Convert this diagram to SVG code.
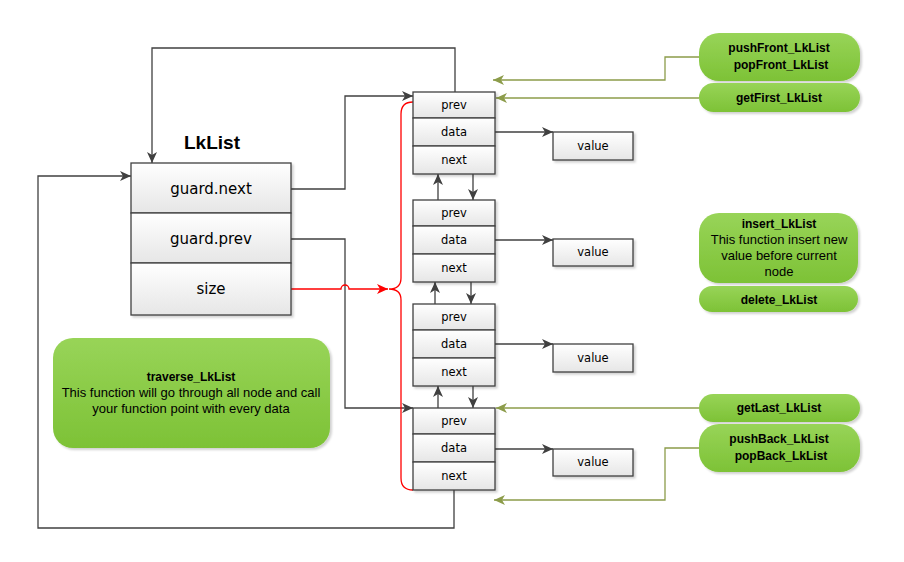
<svg xmlns="http://www.w3.org/2000/svg" width="904" height="562" viewBox="0 0 904 562">
<style>
.box{fill:url(#gBox);stroke:#404040;stroke-width:1.3}
.pill{fill:url(#gGreen);stroke:none}
.t{font-family:"DejaVu Sans",Verdana,sans-serif;fill:#000;text-anchor:middle}
.ts{font-size:11.5px}
.tm{font-size:15px}
.g{font-family:"Liberation Sans",Arial,sans-serif;font-size:13px;fill:#000;text-anchor:middle}
.gb{font-weight:bold;font-size:12px}
.c{fill:none;stroke:#404040;stroke-width:1.3}
.cg{fill:none;stroke:#8c9c4a;stroke-width:1.3}
.cr{fill:none;stroke:#ff0000;stroke-width:1.3}
</style>
<defs>
<linearGradient id="gBox" x1="0" y1="0" x2="0" y2="1">
<stop offset="0" stop-color="#ffffff"/><stop offset="1" stop-color="#e6e6e6"/>
</linearGradient>
<linearGradient id="gGreen" x1="0" y1="0" x2="0" y2="1">
<stop offset="0" stop-color="#98d458"/><stop offset="1" stop-color="#7dc236"/>
</linearGradient>
<filter id="sh" x="-10%" y="-10%" width="130%" height="140%">
<feDropShadow dx="2" dy="2" stdDeviation="1.2" flood-color="#000" flood-opacity="0.18"/>
</filter>
<marker id="aD" markerUnits="userSpaceOnUse" markerWidth="12" markerHeight="10" refX="11" refY="5" orient="auto">
<path d="M0,0 L11,5 L0,10 L3,5 Z" fill="#404040"/>
</marker>
<marker id="aG" markerUnits="userSpaceOnUse" markerWidth="12" markerHeight="10" refX="11" refY="5" orient="auto">
<path d="M0,0 L11,5 L0,10 L3,5 Z" fill="#8c9c4a"/>
</marker>
<marker id="aR" markerUnits="userSpaceOnUse" markerWidth="12" markerHeight="10" refX="11" refY="5" orient="auto">
<path d="M0,0 L11,5 L0,10 L3,5 Z" fill="#ff0000"/>
</marker>
</defs>
<rect width="904" height="562" fill="#ffffff"/>

<g id="connectors">
<path class="c" d="M455,92 L455,48 L152,48 L152,163" marker-end="url(#aD)"/>
<path class="c" d="M454,490 L454,528 L38,528 L38,176 L131,176" marker-end="url(#aD)"/>
<path class="c" d="M291,189 L345,189 L345,96 L413,96" marker-end="url(#aD)"/>
<path class="c" d="M291,239 L345,239 L345,408 L413,408" marker-end="url(#aD)"/>
<path class="cr" d="M291,289 L341,289 A4,4 0 0 1 349,289 L388,289" marker-end="url(#aR)"/>
<path class="cr" d="M413,102 Q401,102 401,114 L401,278 Q401,289 389,289 Q401,289 401,300 L401,478 Q401,490 413,490"/>
<path class="c" d="M495,132 L553,132" marker-end="url(#aD)"/>
<path class="c" d="M495,240 L553,240" marker-end="url(#aD)"/>
<path class="c" d="M495,344 L553,344" marker-end="url(#aD)"/>
<path class="c" d="M495,449 L553,449" marker-end="url(#aD)"/>
<path class="c" d="M438,200 L438,174" marker-end="url(#aD)"/>
<path class="c" d="M473,172 L473,200" marker-end="url(#aD)"/>
<path class="c" d="M435,304 L435,282" marker-end="url(#aD)"/>
<path class="c" d="M471,280 L471,304" marker-end="url(#aD)"/>
<path class="c" d="M438,410 L438,386" marker-end="url(#aD)"/>
<path class="c" d="M473,384 L473,408" marker-end="url(#aD)"/>
<path class="cg" d="M699,57 L665,57 L665,80 L493,80" marker-end="url(#aG)"/>
<path class="cg" d="M699,98 L496,98" marker-end="url(#aG)"/>
<path class="cg" d="M699,408 L496,408" marker-end="url(#aG)"/>
<path class="cg" d="M699,448 L665,448 L665,500 L494,500" marker-end="url(#aG)"/>
</g>

<g id="lklist">
<text class="t" x="212" y="149" style="font-family:'Liberation Sans',Arial,sans-serif;font-size:19px;font-weight:bold">LkList</text>
<g filter="url(#sh)">
<rect class="box" x="131" y="163" width="160" height="50"/>
<rect class="box" x="131" y="213" width="160" height="50"/>
<rect class="box" x="131" y="263" width="160" height="52"/>
</g>
<text class="t tm" x="211" y="194">guard.next</text>
<text class="t tm" x="211" y="244">guard.prev</text>
<text class="t tm" x="211" y="294">size</text>
</g>

<g id="node1">
<g filter="url(#sh)">
<rect class="box" x="413" y="92" width="82" height="26"/>
<rect class="box" x="413" y="118" width="82" height="28"/>
<rect class="box" x="413" y="146" width="82" height="28"/>
</g>
<text class="t ts" x="454" y="109">prev</text>
<text class="t ts" x="454" y="136">data</text>
<text class="t ts" x="454" y="164">next</text>
</g>
<g id="node2">
<g filter="url(#sh)">
<rect class="box" x="413" y="200" width="82" height="26"/>
<rect class="box" x="413" y="226" width="82" height="28"/>
<rect class="box" x="413" y="254" width="82" height="28"/>
</g>
<text class="t ts" x="454" y="217">prev</text>
<text class="t ts" x="454" y="244">data</text>
<text class="t ts" x="454" y="272">next</text>
</g>
<g id="node3">
<g filter="url(#sh)">
<rect class="box" x="413" y="304" width="82" height="26"/>
<rect class="box" x="413" y="330" width="82" height="28"/>
<rect class="box" x="413" y="358" width="82" height="28"/>
</g>
<text class="t ts" x="454" y="321">prev</text>
<text class="t ts" x="454" y="348">data</text>
<text class="t ts" x="454" y="376">next</text>
</g>
<g id="node4">
<g filter="url(#sh)">
<rect class="box" x="413" y="408" width="82" height="26"/>
<rect class="box" x="413" y="434" width="82" height="28"/>
<rect class="box" x="413" y="462" width="82" height="28"/>
</g>
<text class="t ts" x="454" y="425">prev</text>
<text class="t ts" x="454" y="452">data</text>
<text class="t ts" x="454" y="480">next</text>
</g>

<g id="value1"><rect class="box" filter="url(#sh)" x="553" y="132" width="80" height="28"/><text class="t ts" x="593" y="150">value</text></g>
<g id="value2"><rect class="box" filter="url(#sh)" x="553" y="239" width="80" height="27"/><text class="t ts" x="593" y="256">value</text></g>
<g id="value3"><rect class="box" filter="url(#sh)" x="553" y="344" width="80" height="28"/><text class="t ts" x="593" y="362">value</text></g>
<g id="value4"><rect class="box" filter="url(#sh)" x="553" y="449" width="80" height="27"/><text class="t ts" x="593" y="466">value</text></g>

<g id="pushFront">
<rect class="pill" filter="url(#sh)" x="699" y="33" width="161" height="48" rx="20"/>
<text class="g gb" x="779" y="52">pushFront_LkList</text>
<text class="g gb" x="781" y="69">popFront_LkList</text>
</g>
<g id="getFirst">
<rect class="pill" filter="url(#sh)" x="699" y="83" width="161" height="29" rx="14.5"/>
<text class="g gb" x="779" y="102">getFirst_LkList</text>
</g>
<g id="insert">
<rect class="pill" filter="url(#sh)" x="699" y="213" width="159" height="70" rx="20"/>
<text class="g gb" x="779" y="228">insert_LkList</text>
<text class="g" x="779" y="244">This function insert new</text>
<text class="g" x="779" y="260">value before current</text>
<text class="g" x="779" y="276">node</text>
</g>
<g id="delete">
<rect class="pill" filter="url(#sh)" x="699" y="286" width="159" height="26" rx="13"/>
<text class="g gb" x="779" y="304">delete_LkList</text>
</g>
<g id="getLast">
<rect class="pill" filter="url(#sh)" x="699" y="394" width="161" height="28" rx="14"/>
<text class="g gb" x="779" y="412">getLast_LkList</text>
</g>
<g id="pushBack">
<rect class="pill" filter="url(#sh)" x="699" y="424" width="161" height="48" rx="20"/>
<text class="g gb" x="779" y="443">pushBack_LkList</text>
<text class="g gb" x="781" y="460">popBack_LkList</text>
</g>
<g id="traverse">
<rect class="pill" filter="url(#sh)" x="53" y="338" width="277" height="110" rx="20"/>
<text class="g gb" x="191" y="381">traverse_LkList</text>
<text class="g" x="191" y="397">This function will go through all node and call</text>
<text class="g" x="191" y="413">your function point with every data</text>
</g>
</svg>
